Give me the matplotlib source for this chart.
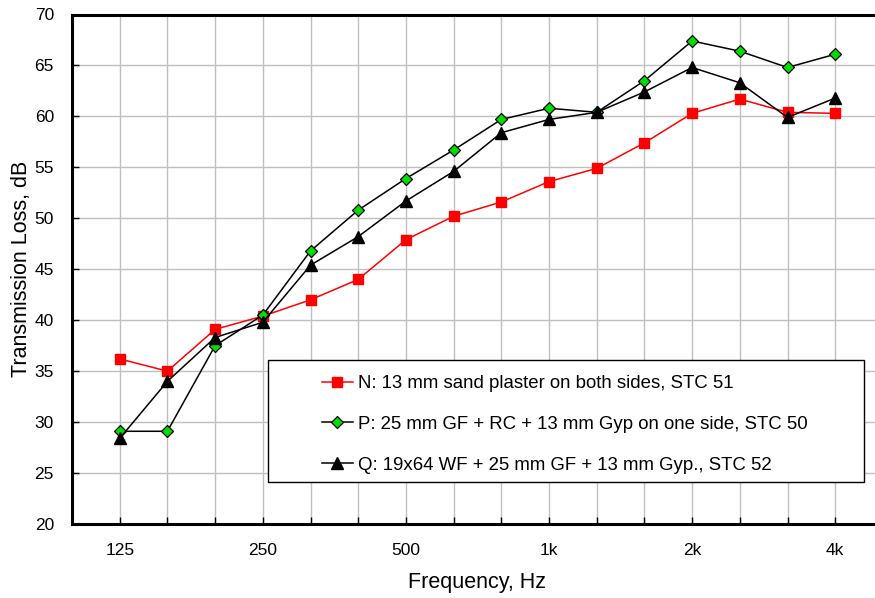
import matplotlib
matplotlib.use('Agg')
import matplotlib.pyplot as plt
from matplotlib.patches import Rectangle

# 1/3 octave bands, 125 Hz - 4 kHz
freqs = ['125', '160', '200', '250', '315', '400', '500', '630', '800',
         '1k', '1250', '1600', '2k', '2500', '3150', '4k']
tick_labels = ['125', '', '', '250', '', '', '500', '', '', '1k', '', '', '2k', '', '', '4k']

tl_n = [36.2, 35.0, 39.1, 40.4, 42.0, 44.0, 47.9, 50.2, 51.6, 53.6, 54.9, 57.4, 60.3, 61.7, 60.4, 60.3]
tl_p = [29.1, 29.1, 37.5, 40.5, 46.8, 50.8, 53.9, 56.7, 59.7, 60.8, 60.4, 63.5, 67.4, 66.4, 64.8, 66.1]
tl_q = [28.4, 34.0, 38.3, 39.8, 45.4, 48.2, 51.7, 54.6, 58.4, 59.7, 60.4, 62.4, 64.8, 63.3, 59.9, 61.8]

labels = ['N: 13 mm sand plaster on both sides, STC 51',
          'P: 25 mm GF + RC + 13 mm Gyp on one side, STC 50',
          'Q: 19x64 WF + 25 mm GF + 13 mm Gyp., STC 52']

plt.rcParams['font.family'] = ['Liberation Sans', 'DejaVu Sans']
narrow = ['Liberation Sans Narrow', 'Liberation Sans', 'DejaVu Sans']

fig = plt.figure(figsize=(8.75, 5.98), dpi=100)
ax = fig.add_axes([72 / 875, 74 / 598, 17 * 47.7 / 875, 509.5 / 598])

x = list(range(len(freqs)))
ax.plot(x, tl_n, color='red', lw=1.1, marker='s', ms=7, mfc='red', mec='red', label=labels[0], zorder=3)
ax.plot(x, tl_p, color='black', lw=1.1, marker='D', ms=6.5, mfc='#00e000', mec='black', mew=0.9, label=labels[1], zorder=3)
ax.plot(x, tl_q, color='black', lw=1.1, marker='^', ms=8, mfc='black', mec='black', label=labels[2], zorder=3)

ax.set_xlim(-1, 16)
ax.set_ylim(20, 70)
ax.set_xticks(x)
ax.set_xticklabels(tick_labels, family=narrow, fontsize=12.5)
ax.set_yticks(range(20, 71, 5))
ax.set_yticklabels([str(v) for v in range(20, 71, 5)], family=narrow, fontsize=12.5)
ax.tick_params(axis='both', direction='in', length=5, width=1, color='black')
ax.tick_params(axis='x', pad=14)
ax.tick_params(axis='y', pad=13)
ax.grid(True, color='#c0c0c0', lw=1)
ax.set_axisbelow(True)
for s in ['left', 'bottom', 'top']:
    ax.spines[s].set_linewidth(2.2)
ax.spines['right'].set_visible(False)

ax.set_xlabel('Frequency, Hz', fontsize=15.5, labelpad=10)
ax.set_ylabel('Transmission Loss, dB', fontsize=15.5, labelpad=2)

# legend box
fig.patches.append(Rectangle((268 / 875, 1 - 482 / 598), 596 / 875, 122 / 598,
                             transform=fig.transFigure, facecolor='white',
                             edgecolor='black', lw=1, zorder=5))
leg = fig.legend(loc='upper left', bbox_to_anchor=(322 / 875, 1 - 375 / 598),
                 frameon=False, fontsize=13.4, handlelength=1.65, handletextpad=0.3,
                 labelspacing=1.28, borderpad=0, borderaxespad=0)
leg.set_zorder(6)

fig.savefig('out.png', dpi=100)
